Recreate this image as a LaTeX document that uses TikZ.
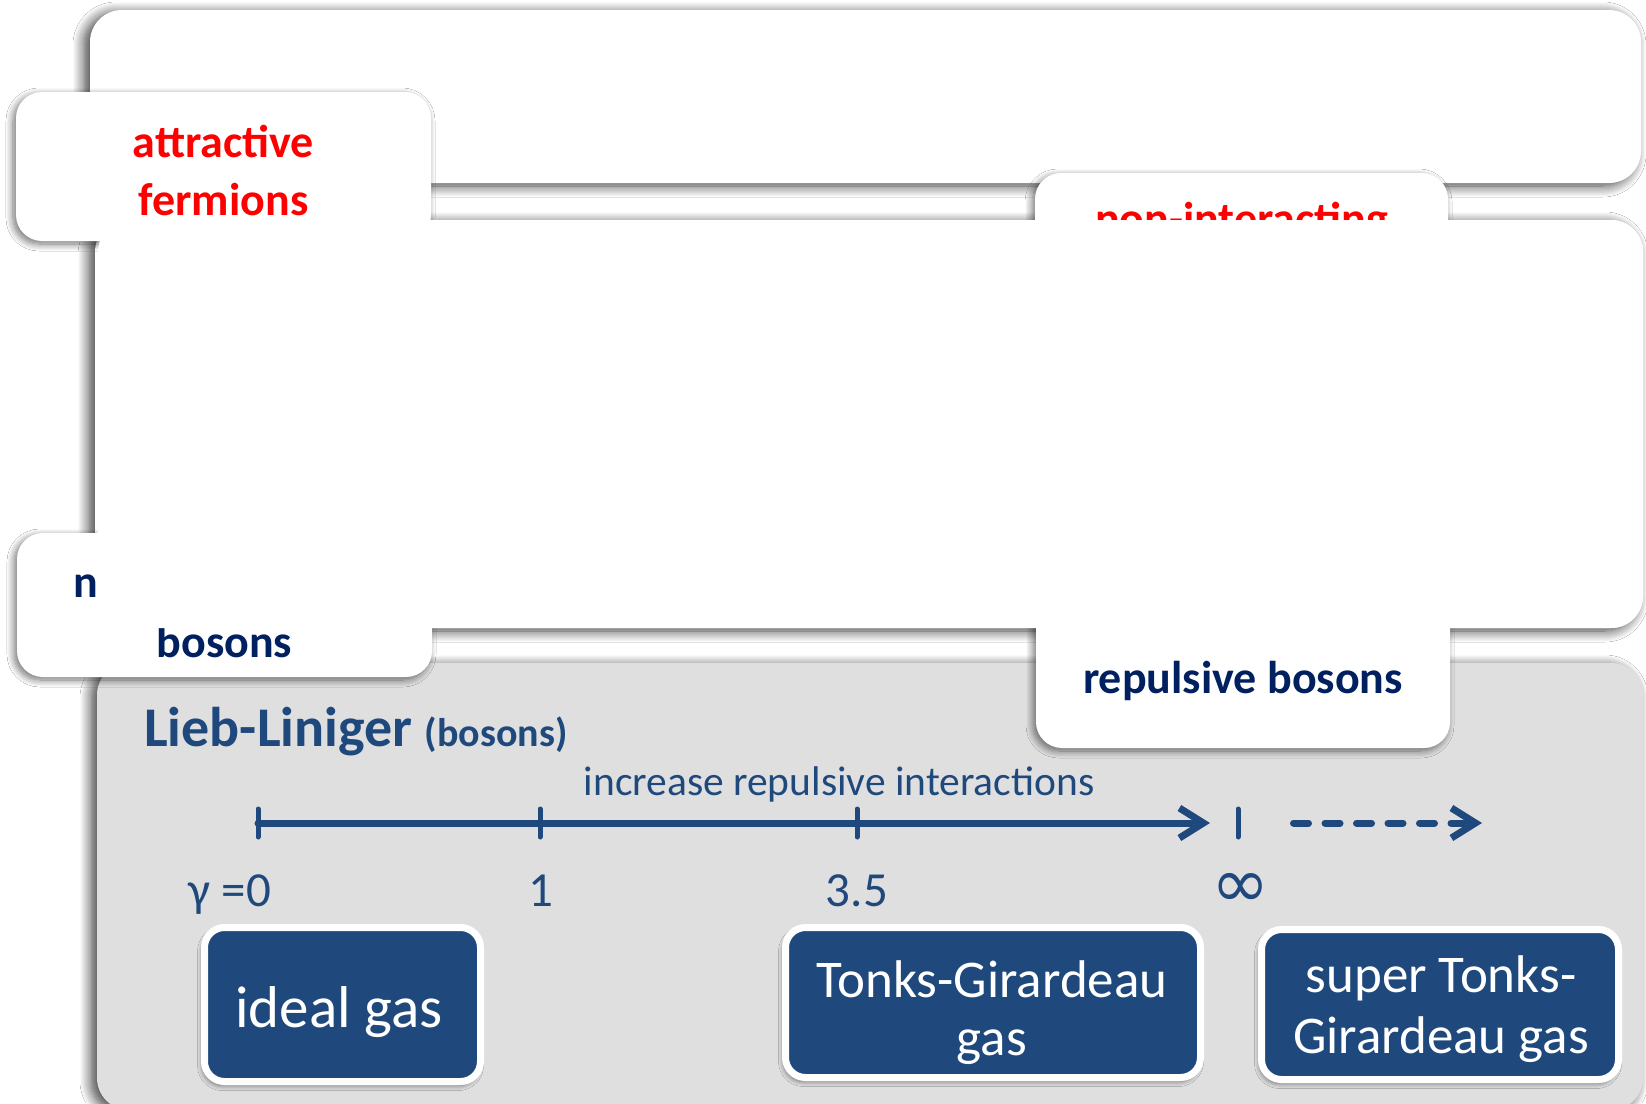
\documentclass[tikz,border=0pt]{standalone}
\usepackage{fontspec}
\setmainfont{Carlito}
\newfontfamily\symfont{DejaVu Sans}
\usetikzlibrary{shadows.blur,arrows.meta}
\definecolor{navy}{HTML}{002060}
\definecolor{slate}{HTML}{1F497D}
\definecolor{panelgray}{HTML}{DFDFDF}
\definecolor{alert}{HTML}{FF0000}
\newcommand\pxsize[1]{\fontsize{#1pt}{#1pt}\selectfont}

\begin{document}
\begin{tikzpicture}[x=1pt,y=-1pt,
  panelshade/.style={blur shadow={shadow xshift=-6pt,shadow yshift=-3pt,shadow blur radius=11pt,shadow blur steps=12,shadow opacity=75}},
  boxshade/.style={blur shadow={shadow xshift=-3pt,shadow yshift=-3pt,shadow blur radius=7pt,shadow blur steps=10,shadow opacity=55}},
  smallshade/.style={blur shadow={shadow xshift=-2pt,shadow yshift=-4pt,shadow blur radius=5pt,shadow blur steps=8,shadow opacity=50}},
  panel/.style={fill=white,rounded corners=32pt},
  wbox/.style={fill=white,rounded corners=26pt,inner sep=0pt,boxshade},
  dbox/.style={fill=slate,draw=white,line width=7pt,rounded corners=20pt,inner sep=0pt,smallshade},
  redlbl/.style={text=alert,font=\bfseries\pxsize{46},inner sep=0pt,anchor=base},
  navylbl/.style={text=navy,font=\bfseries\pxsize{46},inner sep=0pt,anchor=base},
  wlbl/.style={text=white,font=\pxsize{53},inner sep=0pt,anchor=base},
  axlbl/.style={text=slate,font=\pxsize{49},inner sep=0pt,anchor=base},
  axisline/.style={draw=slate,line width=7pt,line cap=round,line join=round},
  tickline/.style={draw=slate,line width=5pt,line cap=round},
  barb/.style={-{Straight Barb[length=24pt,width=30pt]}}]

\useasboundingbox (0,0) rectangle (1646,1103);
\fill[white] (0,0) rectangle (1646,1103);

% three stacked panels
\path[panel,panelshade] (90,10) rectangle (1641,183);
\path[panel,panelshade] (95,220) rectangle (1643,628);
\path[panel,panelshade,fill=panelgray] (97,663) rectangle (1643,1110);

% label cards
\node[wbox,minimum width=415pt,minimum height=149pt] (attr) at (223.5,166.5) {};
\node[redlbl] (attrA) at (223.5,157) {attractive};
\node[redlbl] (attrB) at (223.5,215) {fermions};

\node[wbox,minimum width=413pt,minimum height=149pt] (nif) at (1241.5,247.5) {};
\node[redlbl] (nifA) at (1241.5,234) {non-interacting};

\node[wbox,minimum width=415pt,minimum height=144pt] (nib) at (224.5,605) {};
\node[navylbl] (nibA) at (220.5,597) {non-interacting};
\node[navylbl] (nibB) at (224.5,657) {bosons};

\node[wbox,minimum width=414pt,minimum height=148pt] (rep) at (1243,674) {};
\node[navylbl] (repA) at (1243,693) {repulsive bosons};

% middle panel lies over the cards
\path[panel] (98,220) rectangle (1643,628);

% Lieb-Liniger panel
\node[anchor=base west,inner sep=0pt,text=slate] (title) at (144,746)
  {\bfseries\pxsize{56}Lieb-Liniger \pxsize{40}(bosons)};
\node[anchor=base,inner sep=0pt,text=slate,font=\pxsize{41.5}] (incr) at (839,795)
  {increase repulsive interactions};

\coordinate (g0) at (258,823);
\coordinate (g1) at (540,823);
\coordinate (g35) at (857,823);
\coordinate (gend) at (1210,823);
\coordinate (ginf) at (1238,823);
\coordinate (ds) at (1293.5,823);
\coordinate (de) at (1482,823);

\draw[axisline,barb] (g0) -- (gend);
\foreach \c in {g0,g1,g35,ginf}
  \draw[tickline] ([yshift=14pt]\c) -- ([yshift=-14pt]\c);
\draw[axisline,barb,dash pattern=on 15pt off 16.5pt] (ds) -- (de);

\node[axlbl] (lg0) at (230,906) {γ =0};
\node[axlbl] (lg1) at (541,906) {1};
\node[axlbl] (lg35) at (857,906) {3.5};
\node[inner sep=0pt,text=slate,font=\symfont\pxsize{70}] (linf) at (1241,890) {∞};

\node[dbox,minimum width=276pt,minimum height=154pt] (ideal) at (342.5,1004.5) {};
\node[wlbl,font=\pxsize{59}] (idealA) at (339,1027) {ideal gas};

\node[dbox,minimum width=415pt,minimum height=150pt] (tonks) at (993,1002.5) {};
\node[wlbl] (tonksA) at (992,997) {Tonks-Girardeau};
\node[wlbl] (tonksB) at (992,1055) {gas};

\node[dbox,minimum width=357pt,minimum height=150pt] (stg) at (1440,1004.5) {};
\node[wlbl] (stgA) at (1441,992) {super Tonks-};
\node[wlbl] (stgB) at (1441,1053) {Girardeau gas};
\end{tikzpicture}
\end{document}
